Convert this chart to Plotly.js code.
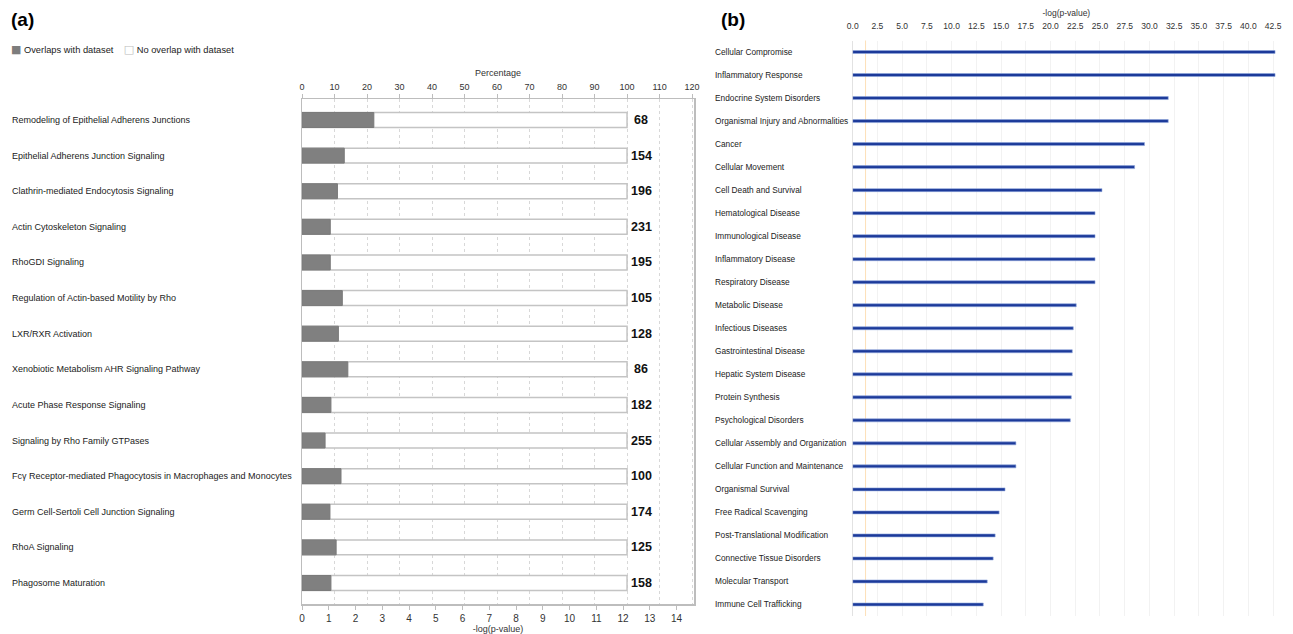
<!DOCTYPE html>
<html>
<head>
<meta charset="utf-8">
<script src="https://cdn.plot.ly/plotly-3.0.1.min.js"></script>
<style>html,body{margin:0;padding:0;background:#fff;}#chart{width:1293px;height:634px;}</style>
</head>
<body>
<div id="chart"></div>
<script>
// ---------- Panel (a): canonical pathways ----------
const pathways = [
  "Remodeling of Epithelial Adherens Junctions",
  "Epithelial Adherens Junction Signaling",
  "Clathrin-mediated Endocytosis Signaling",
  "Actin Cytoskeleton Signaling",
  "RhoGDI Signaling",
  "Regulation of Actin-based Motility by Rho",
  "LXR/RXR Activation",
  "Xenobiotic Metabolism AHR Signaling Pathway",
  "Acute Phase Response Signaling",
  "Signaling by Rho Family GTPases",
  "Fcγ Receptor-mediated Phagocytosis in Macrophages and Monocytes",
  "Germ Cell-Sertoli Cell Junction Signaling",
  "RhoA Signaling",
  "Phagosome Maturation"
];
const overlapPct = [22.1, 13.0, 10.9, 8.7, 8.7, 12.4, 11.2, 14.1, 8.9, 7.1, 12.0, 8.6, 10.5, 8.9];
const totalPct   = [100, 100, 100, 100, 100, 100, 100, 100, 100, 100, 100, 100, 100, 100];
const totalMolecules = [68, 154, 196, 231, 195, 105, 128, 86, 182, 255, 100, 174, 125, 158];
const pctTicks = [0, 10, 20, 30, 40, 50, 60, 70, 80, 90, 100, 110, 120];
const logPTicksA = [0, 1, 2, 3, 4, 5, 6, 7, 8, 9, 10, 11, 12, 13, 14];
const legendNames = ["Overlaps with dataset", "No overlap with dataset"];

// ---------- Panel (b): diseases and functions ----------
const functionsB = [
  "Cellular Compromise", "Inflammatory Response", "Endocrine System Disorders",
  "Organismal Injury and Abnormalities", "Cancer", "Cellular Movement",
  "Cell Death and Survival", "Hematological Disease", "Immunological Disease",
  "Inflammatory Disease", "Respiratory Disease", "Metabolic Disease",
  "Infectious Diseases", "Gastrointestinal Disease", "Hepatic System Disease",
  "Protein Synthesis", "Psychological Disorders", "Cellular Assembly and Organization",
  "Cellular Function and Maintenance", "Organismal Survival", "Free Radical Scavenging",
  "Post-Translational Modification", "Connective Tissue Disorders", "Molecular Transport",
  "Immune Cell Trafficking"
];
const logPB = [42.7, 42.7, 31.9, 31.9, 29.5, 28.5, 25.2, 24.5, 24.5, 24.5, 24.5, 22.6,
               22.3, 22.2, 22.2, 22.1, 22.0, 16.5, 16.5, 15.4, 14.8, 14.4, 14.2, 13.6, 13.2];
const thresholdB = 1.3;

const W = 1293, H = 634;
const FONT = "Liberation Sans, Arial, sans-serif";
const domA = [302 / W, 694 / W];

const traces = [
  { // anchors the bottom -log(p-value) axis of panel (a)
    type: "scatter", mode: "markers", x: [], y: [], xaxis: "x", yaxis: "y",
    showlegend: false, hoverinfo: "skip"
  },
  {
    type: "bar", orientation: "h", name: legendNames[1],
    x: totalPct, y: pathways, xaxis: "x2", yaxis: "y", width: 0.42,
    marker: {color: "#ffffff", line: {color: "#c4c4c4", width: 1.5}},
    hoverinfo: "skip", showlegend: false
  },
  {
    type: "bar", orientation: "h", name: legendNames[0],
    x: overlapPct, y: pathways, xaxis: "x2", yaxis: "y", width: 0.42,
    marker: {color: "#808080", line: {color: "#7a7a7a", width: 1}},
    showlegend: false
  },
  {
    type: "bar", orientation: "h", x: logPB, y: functionsB,
    xaxis: "x3", yaxis: "y3", width: 0.13, showlegend: false,
    marker: {color: "#1c3a9a", line: {color: "#8fa6dc", width: 0.6}}
  }
];

const annotations = [];
pathways.forEach((p, i) => {
  annotations.push({
    xref: "paper", yref: "y", x: 10 / W, y: p, xanchor: "left", yanchor: "middle",
    text: p, showarrow: false, font: {family: FONT, size: 9, color: "#222"}
  });
  annotations.push({
    xref: "x2", yref: "y", x: totalPct[i], y: p, xanchor: "center", xshift: 14,
    yanchor: "middle", text: "<b>" + totalMolecules[i] + "</b>", showarrow: false,
    font: {family: FONT, size: 12.5, color: "#111"}
  });
});
functionsB.forEach((f) => {
  annotations.push({
    xref: "paper", yref: "y3", x: 713 / W, y: f, xanchor: "left", yanchor: "middle",
    text: f, showarrow: false, font: {family: FONT, size: 8.3, color: "#222"}
  });
});
// legend of panel (a)
annotations.push({
  xref: "paper", yref: "paper", x: 9 / W, y: 1 - 50 / H, xanchor: "left", yanchor: "middle",
  showarrow: false, font: {family: FONT, size: 9.3, color: "#222"},
  text: '<span style="color:#7d7d7d;font-family:DejaVu Sans;font-size:11px">■</span> ' + legendNames[0] +
        '    <span style="color:#bdbdbd;font-family:DejaVu Sans;font-size:11px">□</span> ' + legendNames[1]
});
annotations.push({xref: "paper", yref: "paper", x: 9 / W, y: 1 - 19 / H, xanchor: "left",
  yanchor: "middle", text: "<b>(a)</b>", showarrow: false, font: {family: FONT, size: 19, color: "#000"}});
annotations.push({xref: "paper", yref: "paper", x: 719 / W, y: 1 - 19 / H, xanchor: "left",
  yanchor: "middle", text: "<b>(b)</b>", showarrow: false, font: {family: FONT, size: 19, color: "#000"}});

const layout = {
  width: W, height: H,
  margin: {l: 0, r: 0, t: 0, b: 0},
  paper_bgcolor: "#ffffff", plot_bgcolor: "rgba(0,0,0,0)",
  barmode: "overlay",
  font: {family: FONT, color: "#222"},
  showlegend: false,
  xaxis: {
    domain: domA, anchor: "y", side: "bottom",
    range: [0, 14.65], tickvals: logPTicksA, showgrid: false, zeroline: false,
    showline: true, linecolor: "#bdbdbd", linewidth: 1.5,
    ticks: "outside", ticklen: 4, tickcolor: "#bdbdbd",
    tickfont: {family: FONT, size: 10, color: "#333"},
    title: {text: "-log(p-value)", font: {family: FONT, size: 9, color: "#333"}, standoff: 4}
  },
  xaxis2: {
    domain: domA, overlaying: "x", anchor: "y", side: "top",
    range: [0, 120.6], tickvals: pctTicks, showgrid: true, gridcolor: "#d8d8d8",
    griddash: "dot", gridwidth: 1, zeroline: false,
    showline: true, linecolor: "#bdbdbd", linewidth: 1.5,
    ticks: "outside", ticklen: 4, tickcolor: "#bdbdbd",
    tickfont: {family: FONT, size: 9, color: "#333"},
    title: {text: "Percentage", font: {family: FONT, size: 9, color: "#333"}, standoff: 4}
  },
  yaxis: {
    domain: [1 - 604 / H, 1 - 99 / H], anchor: "x", type: "category",
    categoryorder: "array", categoryarray: pathways,
    range: [13.59, -0.59], showticklabels: false, showgrid: false, zeroline: false,
    showline: true, mirror: true, linecolor: "#bdbdbd", linewidth: 1.5, ticks: ""
  },
  xaxis3: {
    domain: [852.7 / W, 1280 / W], anchor: "y3", side: "top",
    range: [0, 43.2], dtick: 2.5, tick0: 0, tickformat: ".1f",
    showgrid: true, gridcolor: "#f2f2f2", gridwidth: 1,
    zeroline: true, zerolinecolor: "#e2e2e2", zerolinewidth: 1, showline: false,
    ticks: "outside", ticklen: 7, tickcolor: "rgba(0,0,0,0)",
    tickfont: {family: FONT, size: 8.5, color: "#333"},
    title: {text: "-log(p-value)", font: {family: FONT, size: 8.5, color: "#333"}, standoff: 3}
  },
  yaxis3: {
    domain: [1 - 616 / H, 1 - 40.5 / H], anchor: "x3", type: "category",
    categoryorder: "array", categoryarray: functionsB,
    range: [24.5, -0.5], showticklabels: false, showgrid: false, zeroline: false,
    showline: false, ticks: ""
  },
  shapes: [{
    type: "line", xref: "x3", yref: "y3 domain", x0: thresholdB, x1: thresholdB, y0: 0, y1: 1.0,
    line: {color: "#fde0b8", width: 1}, layer: "below"
  }],
  annotations: annotations
};

Plotly.newPlot("chart", traces, layout, {displayModeBar: false, staticPlot: true});
</script>
</body>
</html>
